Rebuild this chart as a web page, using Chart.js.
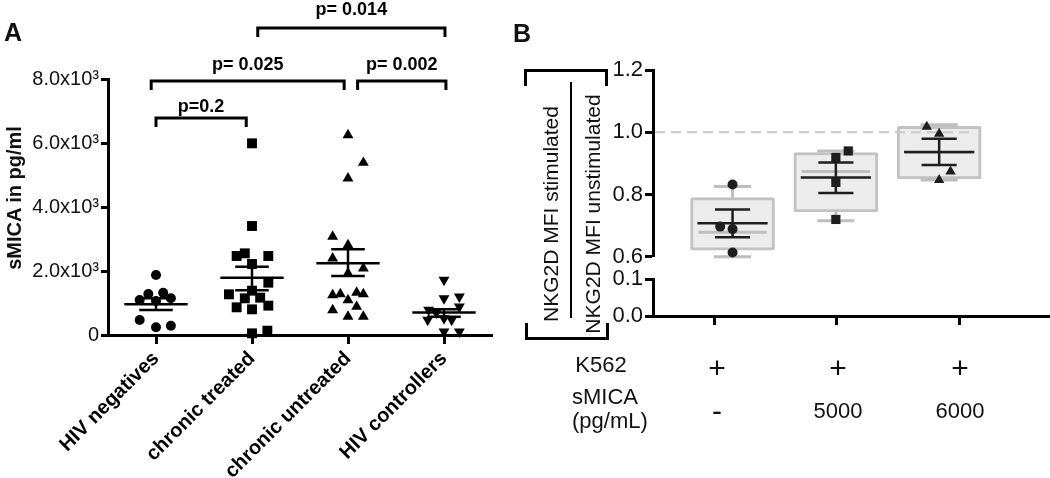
<!DOCTYPE html>
<html><head><meta charset="utf-8">
<script src="https://cdn.jsdelivr.net/npm/chart.js@4.4.1/dist/chart.umd.min.js"></script>
<style>
html,body{margin:0;padding:0;background:#fff;}
body{width:1050px;height:478px;position:relative;overflow:hidden;font-family:"Liberation Sans",Arial,sans-serif;color:#111;}
canvas{position:absolute;}
.t{position:absolute;white-space:nowrap;transform:translate(-50%,-50%);line-height:1;}
.l{position:absolute;white-space:nowrap;line-height:1;}
.br{position:absolute;border:3px solid #000;box-sizing:border-box;}
</style></head><body>
<canvas id="cA" width="500" height="478" style="left:0;top:0"></canvas>
<canvas id="cBtop" width="550" height="272" style="left:500px;top:0"></canvas>
<canvas id="cBbot" width="550" height="216" style="left:500px;top:262px"></canvas>

<div class="t" style="left:13px;top:32px;font-size:25px;font-weight:bold">A</div>
<div class="t" style="left:522px;top:33px;font-size:25px;font-weight:bold">B</div>
<div class="t" style="left:14px;top:198px;font-size:20px;font-weight:bold;transform:translate(-50%,-50%) rotate(-90deg)">sMICA in pg/ml</div>

<div class="br" style="left:524px;top:69px;width:84px;height:17px;border-bottom:none"></div>
<div class="br" style="left:525px;top:323px;width:84px;height:17px;border-top:none"></div>
<div style="position:absolute;left:570px;top:82px;width:2px;height:236px;background:#000"></div>
<div class="t" style="left:550px;top:214px;font-size:21px;transform:translate(-50%,-50%) rotate(-90deg)">NKG2D MFI stimulated</div>
<div class="t" style="left:592px;top:214px;font-size:21px;transform:translate(-50%,-50%) rotate(-90deg)">NKG2D MFI unstimulated</div>

<div id="rows"></div>

<script>
// ---------- Panel A data ----------
const categoriesA = ['HIV negatives', 'chronic treated', 'chronic untreated', 'HIV controllers'];
const hivNegatives = [1875, 1281, 1320, 1094, 1062, 1146, 469, 240, 290];
const hivNegativesJitter = [0, -0.08, 0.075, -0.17, 0, 0.155, -0.17, 0, 0.155];
const chronicTreated = [5990, 3406, 2552, 2469, 2469, 2219, 1635, 1271, 1146, 1167, 1385, 865, 802, 917, 52, 135];
const chronicTreatedJitter = [0, 0, -0.075, -0.16, 0.17, 0, 0.17, -0.24, -0.075, 0.085, 0, -0.16, 0, 0.17, 0, 0.16];
const chronicUntreated = [6250, 5385, 4896, 3073, 2813, 2396, 2083, 1927, 1250, 1281, 1323, 1281, 1094, 885, 781, 573, 573];
const chronicUntreatedJitter = [0, 0.16, 0, -0.16, 0, -0.16, 0.16, 0, -0.16, -0.08, 0.09, 0.16, 0, 0.09, -0.16, 0, 0.16];
const hivControllers = [1719, 1146, 1198, 885, 781, 700, 469, 521, 469, 104, 104];
const hivControllersJitter = [0, 0, 0.16, 0.16, -0.16, -0.08, -0.17, 0, 0.08, 0, 0.16];
const meanA = [960, 1790, 2240, 700];
const semUpperA = [1150, 2135, 2677, 802];
const semLowerA = [780, 1400, 1844, 573];
const yTicksA = [0, 2000, 4000, 6000, 8000];
const yTickLabelsA = ['0', '2.0x10³', '4.0x10³', '6.0x10³', '8.0x10³'];
const pLabels = ['p=0.2', 'p= 0.025', 'p= 0.002', 'p= 0.014'];
const pFrom = [1.0, 0.95, 3.1, 2.06];
const pTo = [1.94, 2.96, 4.02, 4.01];
const pLevel = [6780, 7940, 7940, 9590];
const pTextLevel = [6970, 8280, 8280, 10000];

// ---------- Panel B data ----------
const k562Row = ['+', '+', '+'];
const smicaRow = ['-', '5000', '6000'];
const noMica = [0.832, 0.697, 0.689, 0.614];
const noMicaJitter = [0, -0.12, 0, 0];
const mica5000 = [0.94, 0.919, 0.839, 0.72];
const mica5000Jitter = [0.12, 0, 0, 0];
const mica6000 = [1.018, 0.995, 0.874, 0.847];
const mica6000Jitter = [-0.12, 0, 0.11, 0];
const boxLow = [0.621, 0.744, 0.85];
const boxHigh = [0.79, 0.935, 1.019];
const boxMedian = [0.679, 0.874, 0.935];
const whiskerMin = [0.60, 0.716, 0.847];
const whiskerMax = [0.826, 0.94, 1.024];
const meanB = [0.708, 0.855, 0.937];
const semUpperB = [0.752, 0.903, 0.979];
const semLowerB = [0.663, 0.805, 0.895];
const refLineB = 1.0;
const yTicksBTop = [0.6, 0.8, 1.0, 1.2];
const yTickLabelsBTop = ['0.6', '0.8', '1.0', '1.2'];
const yTicksBBot = [0, 0.1];
const yTickLabelsBBot = ['0.0', '0.1'];

Chart.defaults.font.family = '"Liberation Sans", Arial, sans-serif';
Chart.defaults.color = '#111';

function pts(vals, jit, c) { return vals.map((v, i) => ({x: c + jit[i], y: v})); }
function seg(ctx, x1, y1, x2, y2) { ctx.beginPath(); ctx.moveTo(x1, y1); ctx.lineTo(x2, y2); ctx.stroke(); }

const axisCommon = {
  border: {display: true, color: '#000', width: 3},
  grid: {display: true, drawOnChartArea: false, drawTicks: true, tickColor: '#000', tickWidth: 3, color: '#000'}
};

// ---------- Panel A ----------
const plugA = {
  id: 'plugA',
  afterDatasetsDraw(chart) {
    const {ctx, scales: {x, y}} = chart;
    ctx.save();
    ctx.strokeStyle = '#000';
    ctx.lineWidth = 2.5;
    meanA.forEach((m, i) => {
      const c = i + 1;
      const px = x.getPixelForValue(c);
      seg(ctx, x.getPixelForValue(c - 0.33), y.getPixelForValue(m), x.getPixelForValue(c + 0.33), y.getPixelForValue(m));
      seg(ctx, x.getPixelForValue(c - 0.175), y.getPixelForValue(semUpperA[i]), x.getPixelForValue(c + 0.175), y.getPixelForValue(semUpperA[i]));
      seg(ctx, x.getPixelForValue(c - 0.175), y.getPixelForValue(semLowerA[i]), x.getPixelForValue(c + 0.175), y.getPixelForValue(semLowerA[i]));
      seg(ctx, px, y.getPixelForValue(semUpperA[i]), px, y.getPixelForValue(semLowerA[i]));
    });
    ctx.lineWidth = 3;
    ctx.lineJoin = 'miter';
    ctx.fillStyle = '#000';
    ctx.font = 'bold 18px "Liberation Sans", Arial, sans-serif';
    ctx.textAlign = 'center';
    ctx.textBaseline = 'alphabetic';
    pLabels.forEach((t, i) => {
      const x1 = x.getPixelForValue(pFrom[i]), x2 = x.getPixelForValue(pTo[i]);
      const yy = y.getPixelForValue(pLevel[i]);
      ctx.beginPath(); ctx.moveTo(x1, yy + 9); ctx.lineTo(x1, yy); ctx.lineTo(x2, yy); ctx.lineTo(x2, yy + 9); ctx.stroke();
      ctx.fillText(t, (x1 + x2) / 2, y.getPixelForValue(pTextLevel[i]));
    });
    ctx.restore();
  }
};

new Chart(document.getElementById('cA'), {
  type: 'scatter',
  data: {datasets: [
    {data: pts(hivNegatives, hivNegativesJitter, 1), pointStyle: 'circle', pointRadius: 5, backgroundColor: '#000', borderWidth: 0, clip: false},
    {data: pts(chronicTreated, chronicTreatedJitter, 2), pointStyle: 'rect', pointRadius: 7, backgroundColor: '#000', borderWidth: 0, clip: false},
    {data: pts(chronicUntreated, chronicUntreatedJitter, 3), pointStyle: 'triangle', pointRadius: 6.3, backgroundColor: '#000', borderWidth: 0, clip: false},
    {data: pts(hivControllers, hivControllersJitter, 4), pointStyle: 'triangle', rotation: 180, pointRadius: 6.3, backgroundColor: '#000', borderWidth: 0, clip: false}
  ]},
  options: {
    responsive: false, animation: false, devicePixelRatio: 1,
    layout: {padding: {top: 79, right: 8, left: 0, bottom: 0}},
    plugins: {legend: {display: false}, tooltip: {enabled: false}},
    scales: {
      x: Object.assign({}, axisCommon, {
        type: 'linear', min: 0.5, max: 4.5,
        grid: Object.assign({}, axisCommon.grid, {tickLength: 9}),
        afterBuildTicks: a => { a.ticks = categoriesA.map((c, i) => ({value: i + 1})); },
        afterFit: s => { s.height = 143; },
        ticks: {autoSkip: false, minRotation: 45, maxRotation: 45, padding: 3, color: '#000',
          font: {size: 20, weight: 'bold'}, callback: (v, i) => categoriesA[i]}
      }),
      y: Object.assign({}, axisCommon, {
        type: 'linear', min: 0, max: 8000,
        grid: Object.assign({}, axisCommon.grid, {tickLength: 7}),
        afterBuildTicks: a => { a.ticks = yTicksA.map(v => ({value: v})); },
        afterFit: s => { s.width = 108; },
        ticks: {padding: 2, color: '#111', font: {size: 20}, callback: (v, i) => yTickLabelsA[i]}
      })
    }
  },
  plugins: [plugA]
});

// ---------- Panel B ----------
const plugB = {
  id: 'plugB',
  afterDatasetDraw(chart, args) {
    if (args.index !== 0) return;
    const {ctx, scales: {x, y}} = chart;
    ctx.save();
    ctx.strokeStyle = '#c8c8c8';
    ctx.lineWidth = 2;
    ctx.setLineDash([10, 6]);
    seg(ctx, chart.chartArea.left + 2, y.getPixelForValue(refLineB), x.getPixelForValue(3.34), y.getPixelForValue(refLineB));
    ctx.setLineDash([]);
    ctx.strokeStyle = '#bebebe';
    ctx.lineWidth = 3;
    boxLow.forEach((lo, i) => {
      const c = i + 1, px = x.getPixelForValue(c);
      seg(ctx, px, y.getPixelForValue(boxHigh[i]), px, y.getPixelForValue(whiskerMax[i]));
      seg(ctx, px, y.getPixelForValue(lo), px, y.getPixelForValue(whiskerMin[i]));
      seg(ctx, x.getPixelForValue(c - 0.18), y.getPixelForValue(whiskerMax[i]), x.getPixelForValue(c + 0.18), y.getPixelForValue(whiskerMax[i]));
      seg(ctx, x.getPixelForValue(c - 0.18), y.getPixelForValue(whiskerMin[i]), x.getPixelForValue(c + 0.18), y.getPixelForValue(whiskerMin[i]));
      seg(ctx, x.getPixelForValue(c - 0.33), y.getPixelForValue(boxMedian[i]), x.getPixelForValue(c + 0.33), y.getPixelForValue(boxMedian[i]));
    });
    ctx.restore();
  },
  afterDatasetsDraw(chart) {
    const {ctx, scales: {x, y}} = chart;
    ctx.save();
    ctx.strokeStyle = '#1e1e1e';
    ctx.lineWidth = 2.5;
    meanB.forEach((m, i) => {
      const c = i + 1, px = x.getPixelForValue(c);
      seg(ctx, x.getPixelForValue(c - 0.34), y.getPixelForValue(m), x.getPixelForValue(c + 0.34), y.getPixelForValue(m));
      seg(ctx, x.getPixelForValue(c - 0.17), y.getPixelForValue(semUpperB[i]), x.getPixelForValue(c + 0.17), y.getPixelForValue(semUpperB[i]));
      seg(ctx, x.getPixelForValue(c - 0.17), y.getPixelForValue(semLowerB[i]), x.getPixelForValue(c + 0.17), y.getPixelForValue(semLowerB[i]));
      seg(ctx, px, y.getPixelForValue(semUpperB[i]), px, y.getPixelForValue(semLowerB[i]));
    });
    ctx.restore();
  }
};

new Chart(document.getElementById('cBtop'), {
  type: 'bar',
  data: {datasets: [
    {type: 'bar', order: 1, data: boxLow.map((lo, i) => ({x: i + 1, y: [lo, boxHigh[i]]})),
      barThickness: 84, backgroundColor: '#ececec', borderColor: '#c2c2c2', borderWidth: 3, borderSkipped: false, borderRadius: 2},
    {type: 'scatter', order: 0, data: pts(noMica, noMicaJitter, 1), pointStyle: 'circle', pointRadius: 5, backgroundColor: '#1e1e1e', borderWidth: 0, clip: false},
    {type: 'scatter', order: 0, data: pts(mica5000, mica5000Jitter, 2), pointStyle: 'rect', pointRadius: 6.5, backgroundColor: '#1e1e1e', borderWidth: 0, clip: false},
    {type: 'scatter', order: 0, data: pts(mica6000, mica6000Jitter, 3), pointStyle: 'triangle', pointRadius: 6, backgroundColor: '#1e1e1e', borderWidth: 0, clip: false}
  ]},
  options: {
    responsive: false, animation: false, devicePixelRatio: 1,
    layout: {padding: {top: 70, right: 0, left: 0, bottom: 14}},
    plugins: {legend: {display: false}, tooltip: {enabled: false}},
    scales: {
      x: {type: 'linear', min: 0.5, max: 3.74, display: false},
      y: Object.assign({}, axisCommon, {
        type: 'linear', min: 0.6, max: 1.2,
        grid: Object.assign({}, axisCommon.grid, {tickLength: 8}),
        afterBuildTicks: a => { a.ticks = yTicksBTop.map(v => ({value: v})); },
        afterFit: s => { s.width = 153; },
        ticks: {padding: 2, color: '#111', font: {size: 22}, callback: (v, i) => yTickLabelsBTop[i]}
      })
    }
  },
  plugins: [plugB]
});

new Chart(document.getElementById('cBbot'), {
  type: 'scatter',
  data: {datasets: [{data: []}]},
  options: {
    responsive: false, animation: false, devicePixelRatio: 1,
    layout: {padding: {top: 17, right: 0, left: 0, bottom: 0}},
    plugins: {legend: {display: false}, tooltip: {enabled: false}},
    scales: {
      x: Object.assign({}, axisCommon, {
        type: 'linear', min: 0.5, max: 3.74,
        grid: Object.assign({}, axisCommon.grid, {tickLength: 9}),
        afterBuildTicks: a => { a.ticks = smicaRow.map((s, i) => ({value: i + 1})); },
        afterFit: s => { s.height = 162; },
        ticks: {callback: () => ''}
      }),
      y: Object.assign({}, axisCommon, {
        type: 'linear', min: 0, max: 0.1,
        grid: Object.assign({}, axisCommon.grid, {tickLength: 8}),
        afterBuildTicks: a => { a.ticks = yTicksBBot.map(v => ({value: v})); },
        afterFit: s => { s.width = 153; },
        ticks: {padding: 2, color: '#111', font: {size: 22}, callback: (v, i) => yTickLabelsBBot[i]}
      })
    }
  }
});

// Condition table under panel B
const rows = document.getElementById('rows');
const colX = [717, 838, 960];
function addT(txt, x, y, size, cls) {
  const d = document.createElement('div');
  d.className = cls || 't';
  d.textContent = txt;
  d.style.left = x + 'px'; d.style.top = y + 'px'; d.style.fontSize = size + 'px';
  rows.appendChild(d);
}
addT('K562', 601, 365, 22);
addT('sMICA', 572, 386, 22, 'l');
addT('(pg/mL)', 572, 410, 22, 'l');
k562Row.forEach((s, i) => addT(s, colX[i], 368, 30));
smicaRow.forEach((s, i) => addT(s, colX[i], 411, s === '-' ? 30 : 22));
</script>
</body></html>
